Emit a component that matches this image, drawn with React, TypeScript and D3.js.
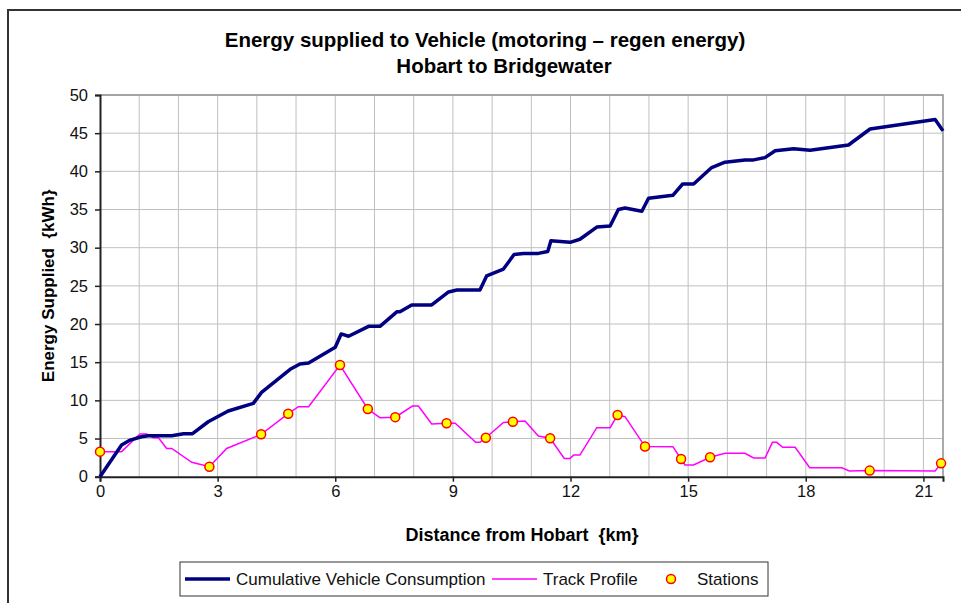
import React, { useEffect, useRef } from "react"
import * as d3 from "d3"

// distance (km) and cumulative energy (kWh)
const cumKm = [0, 0.55, 0.77, 1.06, 1.23, 1.83, 2.13, 2.36, 2.76, 3.27, 3.91, 4.12, 4.85, 5.1, 5.32, 6.0, 6.15, 6.34, 6.85, 7.14, 7.57, 7.65, 7.95, 8.46, 8.89, 9.1, 9.69, 9.86, 10.29, 10.56, 10.8, 11.18, 11.42, 11.5, 11.99, 12.24, 12.67, 13.01, 13.22, 13.39, 13.82, 13.99, 14.61, 14.86, 15.14, 15.6, 15.94, 16.45, 16.67, 16.96, 17.22, 17.69, 18.11, 19.09, 19.64, 21.3, 21.5]
const cumKWh = [0, 4.15, 4.8, 5.24, 5.37, 5.37, 5.63, 5.63, 7.2, 8.6, 9.6, 11.05, 14.07, 14.76, 14.9, 16.95, 18.7, 18.4, 19.7, 19.7, 21.6, 21.6, 22.5, 22.5, 24.2, 24.45, 24.45, 26.3, 27.2, 29.1, 29.25, 29.25, 29.5, 30.9, 30.7, 31.1, 32.7, 32.85, 35.0, 35.2, 34.77, 36.47, 36.86, 38.34, 38.34, 40.5, 41.2, 41.5, 41.5, 41.8, 42.7, 42.97, 42.75, 43.45, 45.55, 46.8, 45.3]

// track profile
const trackKm = [0, 0.55, 1.02, 1.19, 1.36, 1.49, 1.7, 1.83, 2.34, 2.79, 3.23, 4.11, 4.8, 5.06, 5.32, 6.12, 6.83, 7.14, 7.53, 7.97, 8.12, 8.46, 8.84, 9.06, 9.58, 9.69, 9.84, 10.29, 10.53, 10.84, 11.18, 11.48, 11.84, 11.99, 12.08, 12.24, 12.67, 13.01, 13.2, 13.39, 13.9, 14.61, 14.82, 14.92, 15.14, 15.56, 15.94, 16.45, 16.67, 16.96, 17.15, 17.26, 17.41, 17.73, 18.1, 18.92, 19.11, 19.63, 21.3, 21.45]
const trackKWh = [3.28, 3.28, 5.6, 5.6, 5.1, 5.1, 3.7, 3.7, 1.88, 1.31, 3.7, 5.55, 8.25, 9.17, 9.17, 14.63, 8.87, 7.73, 7.8, 9.26, 9.26, 6.9, 7.0, 7.0, 4.5, 4.5, 5.1, 7.1, 7.2, 7.3, 5.33, 5.03, 2.4, 2.4, 2.84, 2.84, 6.42, 6.42, 8.08, 7.86, 3.95, 3.93, 2.32, 1.53, 1.53, 2.54, 3.06, 3.06, 2.45, 2.45, 4.5, 4.5, 3.85, 3.85, 1.18, 1.18, 0.75, 0.8, 0.75, 1.75]

// stations
const stationKm = [0, 2.79, 4.11, 4.8, 6.12, 6.83, 7.53, 8.84, 9.84, 10.53, 11.48, 13.2, 13.9, 14.82, 15.56, 19.63, 21.45]
const stationKWh = [3.28, 1.31, 5.55, 8.25, 14.63, 8.87, 7.8, 7.0, 5.1, 7.2, 5.03, 8.08, 3.95, 2.32, 2.54, 0.8, 1.75]

const xTicks = [0, 3, 6, 9, 12, 15, 18, 21]
const yTicks = [0, 5, 10, 15, 20, 25, 30, 35, 40, 45, 50]
const legendItems = ["Cumulative Vehicle Consumption", "Track Profile", "Stations"]

const W = 961
const H = 603
const margin = { left: 100, right: 18, top: 95, bottom: 126 }
const font = "'Liberation Sans', Arial, sans-serif"

export default function App() {
  const ref = useRef<SVGSVGElement>(null)

  useEffect(() => {
    const svg = d3.select(ref.current)
    svg.selectAll("*").remove()

    const x = d3.scaleLinear().domain([0, 21.5]).range([margin.left, W - margin.right])
    const y = d3.scaleLinear().domain([0, 50]).range([H - margin.bottom - 0.3, margin.top])

    svg.append("rect").attr("width", W).attr("height", H).attr("fill", "#fff")
    svg.append("rect")
      .attr("x", 8).attr("y", 10).attr("width", W + 20).attr("height", H + 20)
      .attr("fill", "none").attr("stroke", "#333").attr("stroke-width", 2)

    // title
    const title = svg.append("text")
      .attr("text-anchor", "middle")
      .attr("font-family", font).attr("font-weight", "bold").attr("font-size", 20.5)
    title.append("tspan").attr("x", 485).attr("y", 47).text("Energy supplied to Vehicle (motoring – regen energy)")
    title.append("tspan").attr("x", 504).attr("y", 73).text("Hobart to Bridgewater")

    // grid
    const g = svg.append("g")
    g.selectAll(".vg").data(d3.range(1, 22)).enter().append("line")
      .attr("x1", d => x(d)).attr("x2", d => x(d))
      .attr("y1", y(0)).attr("y2", y(50))
      .attr("stroke", "#c0c0c0").attr("stroke-width", 1)
    g.selectAll(".hg").data(yTicks.slice(1)).enter().append("line")
      .attr("x1", x(0)).attr("x2", x(21.5))
      .attr("y1", d => y(d)).attr("y2", d => y(d))
      .attr("stroke", "#c0c0c0").attr("stroke-width", 1)
    g.append("path")
      .attr("d", `M${x(0)},${y(50)}H${x(21.5)}V${y(0)}`)
      .attr("fill", "none").attr("stroke", "#909090").attr("stroke-width", 1.5)

    // axes
    const yAxis = svg.append("g")
      .attr("transform", `translate(${x(0)},0)`)
      .call(d3.axisLeft(y).tickValues(yTicks).tickSize(5).tickPadding(7))
    const xAxis = svg.append("g")
      .attr("transform", `translate(0,${y(0)})`)
      .call(d3.axisBottom(x).tickValues(xTicks).tickSize(5).tickPadding(4))
    for (const a of [xAxis, yAxis]) {
      a.select(".domain").attr("stroke", "#222").attr("stroke-width", 2)
      a.selectAll(".tick line").attr("stroke", "#222").attr("stroke-width", 1.5)
      a.selectAll("text").attr("font-family", font).attr("font-size", 16.5).attr("fill", "#111")
    }

    svg.append("text")
      .attr("transform", `translate(54,${(y(0) + y(50)) / 2}) rotate(-90)`)
      .attr("text-anchor", "middle")
      .attr("font-family", font).attr("font-weight", "bold").attr("font-size", 17)
      .style("white-space", "pre")
      .text("Energy Supplied  {kWh}")
    svg.append("text")
      .attr("x", 522).attr("y", 541)
      .attr("text-anchor", "middle")
      .attr("font-family", font).attr("font-weight", "bold").attr("font-size", 18)
      .style("white-space", "pre")
      .text("Distance from Hobart  {km}")

    // series
    const path = d3.line<[number, number]>().x(d => x(d[0])).y(d => y(d[1]))
    svg.append("path")
      .datum(d3.zip(trackKm, trackKWh) as [number, number][])
      .attr("d", path)
      .attr("fill", "none").attr("stroke", "#ff00ff").attr("stroke-width", 1.5)
    svg.append("path")
      .datum(d3.zip(cumKm, cumKWh) as [number, number][])
      .attr("d", path)
      .attr("fill", "none").attr("stroke", "#000080").attr("stroke-width", 3.5)
      .attr("stroke-linejoin", "round")
    svg.selectAll(".st").data(d3.zip(stationKm, stationKWh)).enter().append("circle")
      .attr("cx", d => x(d[0])).attr("cy", d => y(d[1])).attr("r", 4.5)
      .attr("fill", "#ffff00").attr("stroke", "#ff0000").attr("stroke-width", 1.5)

    // legend
    const lg = svg.append("g")
    lg.append("rect").attr("x", 180).attr("y", 562).attr("width", 588).attr("height", 34)
      .attr("fill", "#fff").attr("stroke", "#333").attr("stroke-width", 1)
    lg.append("line").attr("x1", 185).attr("x2", 230).attr("y1", 579).attr("y2", 579)
      .attr("stroke", "#000080").attr("stroke-width", 3.5)
    lg.append("line").attr("x1", 492).attr("x2", 537).attr("y1", 579).attr("y2", 579)
      .attr("stroke", "#ff00ff").attr("stroke-width", 1.5)
    lg.append("circle").attr("cx", 671).attr("cy", 579).attr("r", 4.5)
      .attr("fill", "#ffff00").attr("stroke", "#ff0000").attr("stroke-width", 1.5)
    const textX = [236, 543, 697]
    lg.selectAll(".lt").data(legendItems).enter().append("text")
      .attr("x", (d, i) => textX[i]).attr("y", 585)
      .attr("font-family", font).attr("font-size", 17).attr("fill", "#111")
      .text(d => d)
  }, [])

  return (
    <svg ref={ref} width={W} height={H} style={{ position: "absolute", left: 0, top: 0 }} />
  )
}
